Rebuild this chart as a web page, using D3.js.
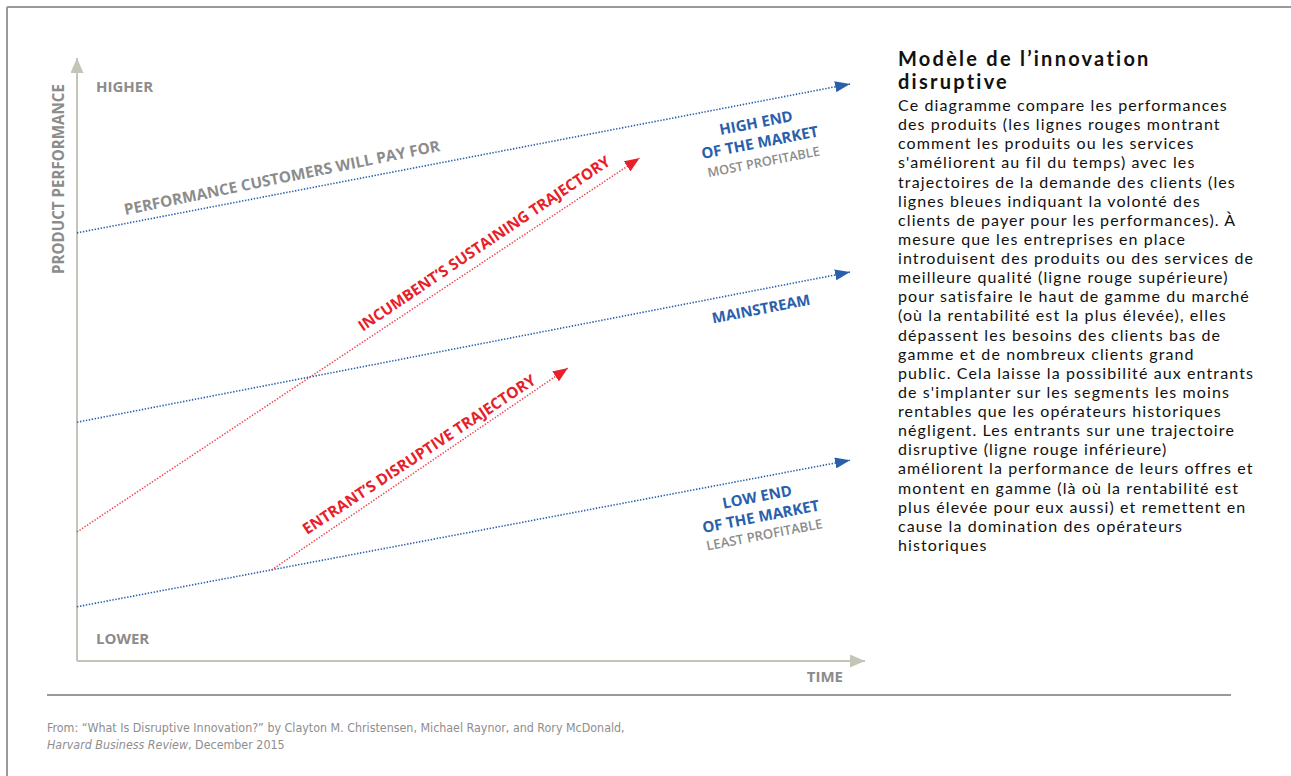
<!DOCTYPE html>
<html>
<head>
<meta charset="utf-8">
<script src="https://cdn.jsdelivr.net/npm/d3@7"></script>
<style>
  html, body { margin: 0; padding: 0; background: #fff; }
  svg { display: block; }
</style>
</head>
<body>
<svg id="chart"></svg>
<script>
// blue lines: what customers will pay for (performance at time 0 and at the arrow tip)
var demandNames = ["high", "mainstream", "low"];
var demandStart = [71.0, 39.6, 9.0];
var demandEnd   = [95.7, 64.5, 33.3];
var demandEndTime = 98.1;

// red lines: product trajectories
var trajNames     = ["incumbent", "entrant"];
var trajStartTime = [0, 24.7];
var trajStartPerf = [21.4, 15.1];
var trajEndTime   = [71.4, 62.3];
var trajEndPerf   = [83.4, 48.6];

var bodyLines = [
  "Ce diagramme compare les performances",
  "des produits (les lignes rouges montrant",
  "comment les produits ou les services",
  "s'améliorent au fil du temps) avec les",
  "trajectoires de la demande des clients (les",
  "lignes bleues indiquant la volonté des",
  "clients de payer pour les performances). À",
  "mesure que les entreprises en place",
  "introduisent des produits ou des services de",
  "meilleure qualité (ligne rouge supérieure)",
  "pour satisfaire le haut de gamme du marché",
  "(où la rentabilité est la plus élevée), elles",
  "dépassent les besoins des clients bas de",
  "gamme et de nombreux clients grand",
  "public. Cela laisse la possibilité aux entrants",
  "de s'implanter sur les segments les moins",
  "rentables que les opérateurs historiques",
  "négligent. Les entrants sur une trajectoire",
  "disruptive (ligne rouge inférieure)",
  "améliorent la performance de leurs offres et",
  "montent en gamme (là où la rentabilité est",
  "plus élevée pour eux aussi) et remettent en",
  "cause la domination des opérateurs",
  "historiques"
];
var titleLines = ["Modèle de l’innovation", "disruptive"];

var W = 1291, H = 776;
var blue = "#2a60ab", red = "#e8202a", grey = "#8c8c8c", axisCol = "#c3c5b8";
var labelFont = "'Open Sans', 'DejaVu Sans', sans-serif";

var svg = d3.select("#chart").attr("width", W).attr("height", H);

// scale a text's font so it spans the wanted width
function fitWidth(sel, target) {
  var fs = parseFloat(sel.attr("font-size"));
  var w = sel.node().getComputedTextLength();
  sel.attr("font-size", (fs * target / w).toFixed(2));
}

// keep the font size, spread the letters so the widest line spans the width
function fitSpacing(textSel, target) {
  var spans = textSel.selectAll("tspan").nodes();
  var best = null, bw = 0;
  spans.forEach(function (n){
    var w = n.getComputedTextLength();
    if (w > bw) { bw = w; best = n; }
  });
  var chars = best.textContent.length;
  textSel.attr("letter-spacing", ((target - bw) / chars).toFixed(3));
}

// page frame
svg.append("line").attr("x1", 7).attr("x2", W).attr("y1", 7).attr("y2", 7)
  .attr("stroke", "#999").attr("stroke-width", 2);
svg.append("line").attr("x1", 7).attr("x2", 7).attr("y1", 7).attr("y2", H)
  .attr("stroke", "#999").attr("stroke-width", 2);

var x = d3.scaleLinear().domain([0, 100]).range([77, 865]);
var y = d3.scaleLinear().domain([0, 100]).range([661, 58]);

var defs = svg.append("defs");
function marker(id, color, len, half) {
  defs.append("marker").attr("id", id)
    .attr("markerUnits", "userSpaceOnUse")
    .attr("markerWidth", len).attr("markerHeight", half * 2)
    .attr("refX", len).attr("refY", half).attr("orient", "auto")
    .append("path").attr("d", "M0,0L" + len + "," + half + "L0," + (half * 2) + "Z")
    .attr("fill", color);
}
marker("arrBlue", blue, 15, 5.5);
marker("arrRed", red, 15, 6);
marker("arrAxis", axisCol, 15, 6.5);

// axes
svg.append("line")
  .attr("x1", x(0)).attr("x2", x(0)).attr("y1", y(0)).attr("y2", y(100))
  .attr("stroke", axisCol).attr("stroke-width", 2).attr("marker-end", "url(#arrAxis)");
svg.append("line")
  .attr("x1", x(0)).attr("x2", x(100)).attr("y1", y(0)).attr("y2", y(0))
  .attr("stroke", axisCol).attr("stroke-width", 2).attr("marker-end", "url(#arrAxis)");

// demand lines
svg.selectAll(".demand").data(demandNames).enter().append("line")
  .attr("class", "demand")
  .attr("x1", x(0))
  .attr("y1", function (d, i){ return y(demandStart[i]); })
  .attr("x2", x(demandEndTime))
  .attr("y2", function (d, i){ return y(demandEnd[i]); })
  .attr("stroke", blue).attr("stroke-width", 1.6)
  .attr("stroke-dasharray", "1.4,1.6")
  .attr("marker-end", "url(#arrBlue)");

// trajectories
svg.selectAll(".traj").data(trajNames).enter().append("line")
  .attr("class", "traj")
  .attr("x1", function (d, i){ return x(trajStartTime[i]); })
  .attr("y1", function (d, i){ return y(trajStartPerf[i]); })
  .attr("x2", function (d, i){ return x(trajEndTime[i]); })
  .attr("y2", function (d, i){ return y(trajEndPerf[i]); })
  .attr("stroke", "#ee4450").attr("stroke-width", 1.5)
  .attr("stroke-dasharray", "1.4,1.6")
  .attr("marker-end", "url(#arrRed)");

// chart labels
function label(tx, ty, rot, lines) {
  var g = svg.append("g")
    .attr("transform", "translate(" + tx + "," + ty + ") rotate(" + rot + ")");
  lines.forEach(function (l) {
    var t = g.append("text").attr("y", l.dy || 0)
      .attr("text-anchor", l.anchor || "middle")
      .attr("font-family", labelFont)
      .attr("font-weight", l.weight || 700)
      .attr("font-size", l.size || 15)
      .attr("fill", l.color)
      .text(l.text);
    if (l.width) fitWidth(t, l.width);
  });
}

label(96, 92, 0, [{ text: "HIGHER", color: grey, anchor: "start", size: 15 }]);
label(96, 644, 0, [{ text: "LOWER", color: grey, anchor: "start", size: 15 }]);
label(843, 682, 0, [{ text: "TIME", color: grey, anchor: "end", size: 15 }]);
label(64, 179, -90, [{ text: "PRODUCT PERFORMANCE", color: grey, size: 14, width: 190 }]);
label(283, 183, -11.5, [{ text: "PERFORMANCE CUSTOMERS WILL PAY FOR", color: grey, size: 15, width: 322 }]);
label(487, 248, -34, [{ text: "INCUMBENT’S SUSTAINING TRAJECTORY", color: red, size: 15, width: 300 }]);
label(422, 459, -33.5, [{ text: "ENTRANT’S DISRUPTIVE TRAJECTORY", color: red, size: 15, width: 276 }]);
label(757, 128, -11, [
  { text: "HIGH END", color: blue, size: 15, dy: 0 },
  { text: "OF THE MARKET", color: blue, size: 15, dy: 20, width: 119 },
  { text: "MOST PROFITABLE", color: grey, size: 12.5, weight: 600, dy: 39, width: 114 }
]);
label(762, 314, -11, [{ text: "MAINSTREAM", color: blue, size: 15, width: 100 }]);
label(758, 502, -11, [
  { text: "LOW END", color: blue, size: 15, dy: 0 },
  { text: "OF THE MARKET", color: blue, size: 15, dy: 20, width: 119 },
  { text: "LEAST PROFITABLE", color: grey, size: 12.5, weight: 600, dy: 38, width: 118 }
]);

// right-hand text block
var sideFont = "Lato, 'Open Sans', sans-serif";
var title = svg.append("text")
  .attr("font-family", sideFont).attr("font-weight", 700)
  .attr("font-size", 20).attr("fill", "#111");
title.selectAll("tspan").data(titleLines).enter().append("tspan")
  .attr("x", 898).attr("y", function (d, i){ return 66 + i * 23; })
  .text(function (d){ return d; });
fitSpacing(title, 253);

var body = svg.append("text")
  .attr("font-family", sideFont).attr("font-size", 16).attr("fill", "#111");
body.selectAll("tspan").data(bodyLines).enter().append("tspan")
  .attr("x", 898).attr("y", function (d, i){ return 111 + i * 19.13; })
  .text(function (d){ return d; });
fitSpacing(body, 356);

// source line
svg.append("line").attr("x1", 47).attr("x2", 1231).attr("y1", 695).attr("y2", 695)
  .attr("stroke", "#777").attr("stroke-width", 1.5);
var footFont = "'Liberation Sans Narrow', 'DejaVu Sans Condensed', 'Liberation Sans', sans-serif";
var f1 = svg.append("text").attr("x", 47).attr("y", 732)
  .attr("font-family", footFont).attr("font-size", 12).attr("fill", "#8e8e8e")
  .text("From: “What Is Disruptive Innovation?” by Clayton M. Christensen, Michael Raynor, and Rory McDonald,");
fitWidth(f1, 578);
var f2 = svg.append("text").attr("x", 47).attr("y", 749)
  .attr("font-family", footFont).attr("font-size", f1.attr("font-size")).attr("fill", "#8e8e8e");
f2.append("tspan").attr("font-style", "italic").text("Harvard Business Review");
f2.append("tspan").text(", December 2015");
</script>
</body>
</html>
